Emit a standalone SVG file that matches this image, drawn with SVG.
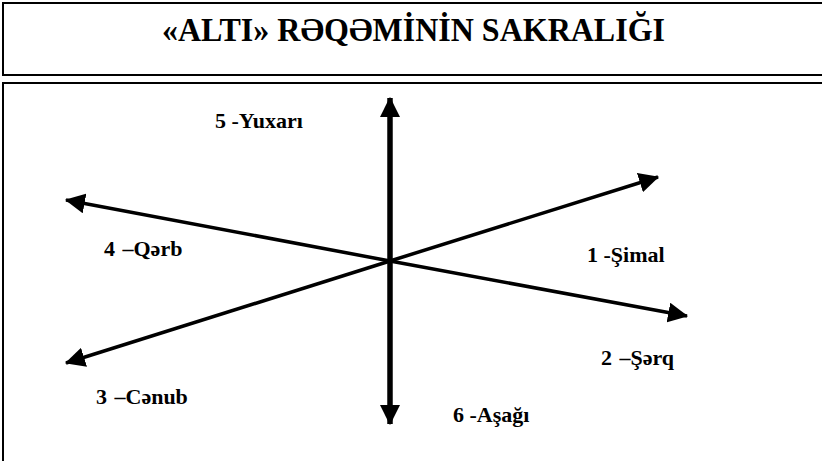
<svg xmlns="http://www.w3.org/2000/svg" width="822" height="461" viewBox="0 0 822 461">
<style>
.box{fill:#fff;stroke:#000;stroke-width:2}
.t{font-family:"Liberation Serif","Times New Roman",serif;font-weight:bold;fill:#000}
.lbl{font-size:22px}
.ttl{font-size:33px}
.ax{stroke:#000;fill:none}
</style>
<defs>
<marker id="ah" markerUnits="userSpaceOnUse" markerWidth="20" markerHeight="20" viewBox="0 0 18 18" refX="17" refY="9" orient="auto">
<path d="M0,0 L18,9 L0,18 Z" fill="#000"/>
</marker>
</defs>
<rect class="box" x="3" y="3" width="840" height="72"/>
<rect class="box" x="3" y="83" width="840" height="400"/>
<g id="title"><text class="t ttl" x="162" y="41" textLength="503" lengthAdjust="spacingAndGlyphs">«ALTI» RƏQƏMİNİN SAKRALIĞI</text></g>
<g id="connectors">
<line class="ax" x1="390" y1="261" x2="390" y2="98" stroke-width="5.5" marker-end="url(#ah)"/>
<line class="ax" x1="390" y1="261" x2="390" y2="424" stroke-width="5.5" marker-end="url(#ah)"/>
<line class="ax" x1="390" y1="261" x2="658" y2="177" stroke-width="3.5" marker-end="url(#ah)"/>
<line class="ax" x1="390" y1="261" x2="66" y2="363" stroke-width="3.5" marker-end="url(#ah)"/>
<line class="ax" x1="390" y1="261" x2="66" y2="200" stroke-width="3.5" marker-end="url(#ah)"/>
<line class="ax" x1="390" y1="261" x2="687" y2="316" stroke-width="3.5" marker-end="url(#ah)"/>
</g>
<g id="n5"><text class="t lbl" x="215" y="128">5 -Yuxarı</text></g>
<g id="n4"><text class="t lbl" x="104" y="256" word-spacing="2">4 –Qərb</text></g>
<g id="n1"><text class="t lbl" x="587" y="262">1 -Şimal</text></g>
<g id="n2"><text class="t lbl" x="601" y="365" word-spacing="2">2 –Şərq</text></g>
<g id="n3"><text class="t lbl" x="96" y="404" word-spacing="2">3 –Cənub</text></g>
<g id="n6"><text class="t lbl" x="453" y="422">6 -Aşağı</text></g>
</svg>
